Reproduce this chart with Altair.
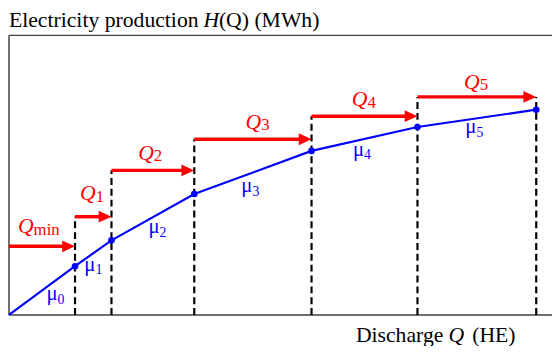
import altair as alt
import pandas as pd

# Break points of the piecewise-linear production curve H(Q)
q_pts = [0, 67, 104, 188, 307, 414.5, 535]
h_pts = [0, 49.5, 75.7, 122.7, 166.5, 190.7, 208.3]

# Discharge step arrows (start, end, level)
arrow_start = [0, 67, 104, 188, 307, 414.5]
arrow_end = [67, 104, 188, 307, 414.5, 535]
arrow_level = [69.7, 99.7, 146.7, 178.3, 201.7, 221.3]

# Dashed drop lines
dash_q = [67, 104, 188, 307, 414.5, 535]
dash_top = [99.7, 146.7, 178.3, 201.7, 221.3, 221.3]

# Q labels (joint position between Q and its subscript)
q_sub = ["min", "1", "2", "3", "4", "5"]
q_lab_x = [25, 88, 147, 256, 363.7, 477.7]
q_lab_y = [83, 116.3, 157.7, 188.7, 212, 229.7]

# mu labels
mu_sub = ["0", "1", "2", "3", "4", "5"]
mu_x = [49.3, 87.7, 152.7, 247, 360.3, 474.3]
mu_y = [15, 44.8, 82.8, 124.5, 161.8, 184.5]

# Axis titles, split in pieces (italic parts separate)
ytitle_txt = ["Electricity production", "H", "(Q) (MWh)"]
ytitle_x = [0, 197.5, 213]
ytitle_italic = [False, True, False]
ytitle_y = 292.5

xtitle_txt = ["Discharge", "Q", "(HE)"]
xtitle_x = [352, 446, 470]
xtitle_italic = [False, True, False]
xtitle_y = -27.5

# Frame
frame_top = 283.7
frame_right = 551

FONT = "'Liberation Serif', 'Times New Roman', 'DejaVu Serif', serif"
RED = "#ff0000"
BLUE = "#0000ff"
FRAME = "#404040"

xs = alt.Scale(domain=[-1, 551], nice=False, zero=False)
ys = alt.Scale(domain=[-29, 309], nice=False, zero=False)


def X(f):
    return alt.X(f, type="quantitative", scale=xs, axis=None)


def Y(f):
    return alt.Y(f, type="quantitative", scale=ys, axis=None)


frame_df = pd.DataFrame({
    "x": [0, 0, 0],
    "x2": [frame_right, frame_right, 0],
    "y": [frame_top, 0, 0],
    "y2": [frame_top, 0, frame_top],
})
frame = alt.Chart(frame_df).mark_rule(color=FRAME, strokeWidth=1.5).encode(
    x=X("x"), x2="x2", y=Y("y"), y2="y2"
)

dash_df = pd.DataFrame({"q": dash_q, "top": dash_top, "base": [0] * len(dash_q)})
dashes = alt.Chart(dash_df).mark_rule(
    color="black", strokeWidth=2.2, strokeDash=[7, 4]
).encode(x=X("q"), y=Y("base"), y2="top")

curve_df = pd.DataFrame({"q": q_pts, "h": h_pts})
curve = alt.Chart(curve_df).mark_line(color=BLUE, strokeWidth=2.2).encode(
    x=X("q"), y=Y("h"), order="q:Q"
)
dots = alt.Chart(curve_df.iloc[1:]).mark_circle(
    color=BLUE, size=45, opacity=1
).encode(x=X("q"), y=Y("h"))

arr_df = pd.DataFrame({"s": arrow_start, "e": arrow_end, "lvl": arrow_level})
shafts = alt.Chart(arr_df).mark_rule(
    color=RED, strokeWidth=3.5, x2Offset=-6
).encode(x=X("s"), x2="e", y=Y("lvl"))
heads = alt.Chart(arr_df).mark_point(
    shape="M-1,-0.46L0,0L-1,0.46Z", filled=True, size=676,
    color=RED, opacity=1, strokeWidth=0
).encode(x=X("e"), y=Y("lvl"))

qlab_df = pd.DataFrame({"x": q_lab_x, "y": q_lab_y, "sub": q_sub})
q_main = alt.Chart(qlab_df).mark_text(
    text="Q", font=FONT, fontSize=22, fontStyle="italic", color=RED,
    align="right", baseline="alphabetic"
).encode(x=X("x"), y=Y("y"))
q_subs = alt.Chart(qlab_df).mark_text(
    font=FONT, fontSize=17, color=RED, align="left",
    baseline="alphabetic", dy=1.5
).encode(x=X("x"), y=Y("y"), text="sub:N")

mu_df = pd.DataFrame({"x": mu_x, "y": mu_y, "sub": mu_sub})
mu_main = alt.Chart(mu_df).mark_text(
    text="μ", font=FONT, fontSize=21, color=BLUE,
    align="right", baseline="alphabetic"
).encode(x=X("x"), y=Y("y"))
mu_subs = alt.Chart(mu_df).mark_text(
    font=FONT, fontSize=14, color=BLUE, align="left",
    baseline="alphabetic", dy=3.5
).encode(x=X("x"), y=Y("y"), text="sub:N")

yt_df = pd.DataFrame({"t": ytitle_txt, "x": ytitle_x, "it": ytitle_italic,
                      "y": [ytitle_y] * 3})
xt_df = pd.DataFrame({"t": xtitle_txt, "x": xtitle_x, "it": xtitle_italic,
                      "y": [xtitle_y] * 3})


def titles(df, size):
    up = alt.Chart(df[~df["it"]]).mark_text(
        font=FONT, fontSize=size, color="black", align="left", baseline="alphabetic"
    ).encode(x=X("x"), y=Y("y"), text="t:N")
    it = alt.Chart(df[df["it"]]).mark_text(
        font=FONT, fontSize=size, fontStyle="italic", color="black",
        align="left", baseline="alphabetic"
    ).encode(x=X("x"), y=Y("y"), text="t:N")
    return up + it


chart = alt.layer(
    frame, dashes, curve, shafts, heads, dots,
    q_main, q_subs, mu_main, mu_subs, titles(yt_df, 22), titles(xt_df, 22)
).properties(
    width=552, height=338, padding=0, autosize="none"
).configure_view(stroke=None)

chart.save("out.html", embed_options={"renderer": "svg", "actions": False})
